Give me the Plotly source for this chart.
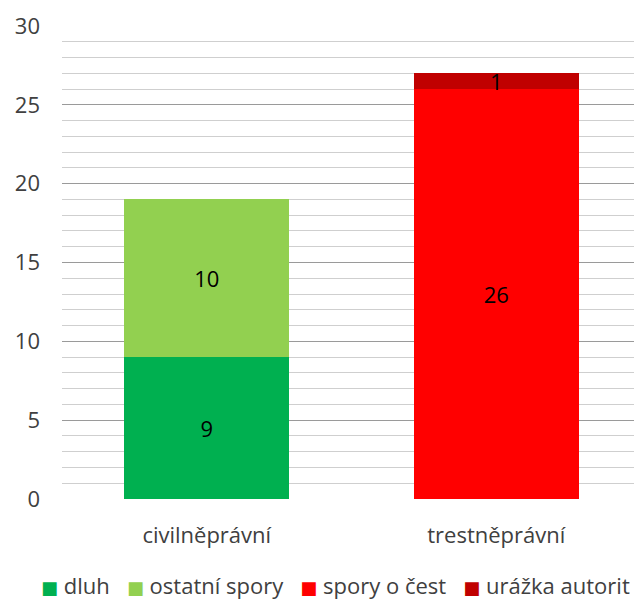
import plotly.graph_objects as go

categories = ["civilněprávní", "trestněprávní"]
series_names = ["dluh", "ostatní spory", "spory o čest", "urážka autorit"]
dluh = [9, None]
ostatni = [10, None]
spory_cest = [None, 26]
urazka = [None, 1]
series_values = [dluh, ostatni, spory_cest, urazka]
colors = ["#00B050", "#92D050", "#FF0000", "#C00000"]
y_ticks = [0, 5, 10, 15, 20, 25, 30]

FONT = "Open Sans, Liberation Sans, sans-serif"

fig = go.Figure()
for name, vals, col in zip(series_names, series_values, colors):
    fig.add_trace(go.Bar(
        x=categories, y=vals, name=name, marker_color=col,
        marker_line_width=0,
        text=[str(v) if v is not None else "" for v in vals],
        textposition="inside", insidetextanchor="middle",
        textangle=0, constraintext="none",
        textfont=dict(size=22, color="#000000", family=FONT),
    ))

# legend drawn as one text line, built from the series names and colours
legend_text = "   ".join(
    f'<span style="color:{c};font-size:18px;font-family:DejaVu Sans">■</span> {n}'
    for n, c in zip(series_names, colors)
)
fig.add_annotation(
    text=legend_text, xref="paper", yref="paper",
    x=0.473, y=-0.182, xanchor="center", yanchor="middle",
    showarrow=False, font=dict(size=22, color="#404040", family=FONT),
)

fig.update_layout(
    barmode="stack",
    bargap=0.43,
    width=634, height=597,
    margin=dict(l=54, r=1, t=18, b=106, autoexpand=False),
    paper_bgcolor="white", plot_bgcolor="white",
    font=dict(family=FONT, color="#404040"),
    showlegend=False,
)
fig.update_xaxes(
    tickfont=dict(size=22, color="#404040", family=FONT),
    showline=False, ticks="", showgrid=False, automargin=False,
    ticklabelstandoff=21,
)
fig.update_yaxes(
    range=[0, 30], tickvals=y_ticks,
    tickfont=dict(size=22, color="#404040", family=FONT),
    showgrid=True, gridcolor="#9a9a9a", gridwidth=1,
    zeroline=False, showline=False, ticks="",
    ticklabelstandoff=21, automargin=False,
    minor=dict(dtick=1, showgrid=True, gridcolor="#cfcfcf", gridwidth=1),
)

fig.write_html("out.html")
